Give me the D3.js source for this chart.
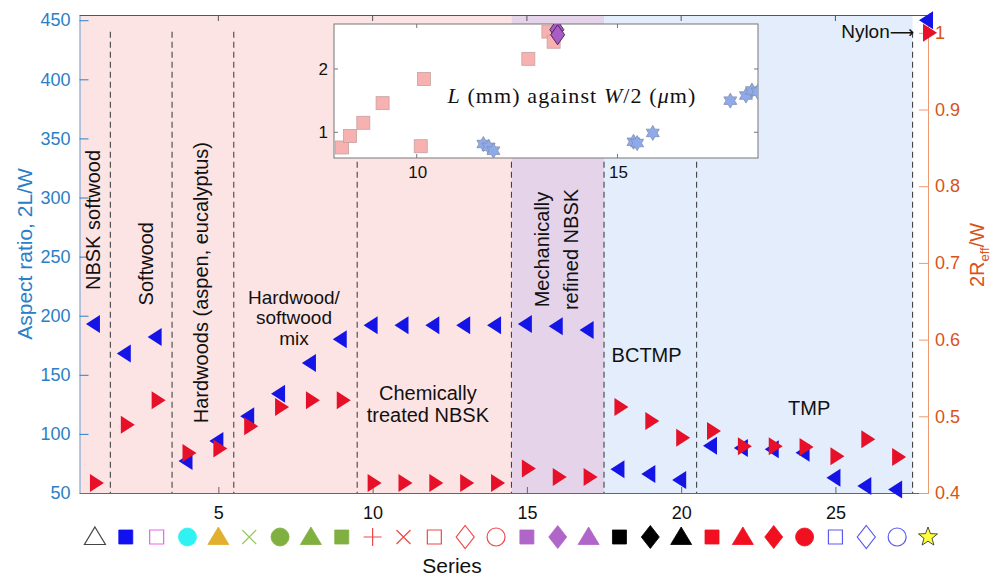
<!DOCTYPE html>
<html>
<head>
<meta charset="utf-8">
<script src="https://cdn.jsdelivr.net/npm/d3@7"></script>
<style>
  body { margin: 0; background: #fff; }
  text { font-family: "Liberation Sans", Arial, Helvetica, sans-serif; }
</style>
</head>
<body>
<svg id="chart" width="995" height="578"></svg>
<script>
// series numbers along the x axis
var series = d3.range(1, 29)

// left axis: aspect ratio 2L/W (blue, left-pointing triangles)
var aspectRatio = [193, 168, 182, 77, 94, 115, 134, 160, 180, 192, 192, 192, 192, 192,
  193, 191, 188, 70, 66, 61, 90, 88, 87, 84, 63, 56, 53, 450]

// right axis: 2Reff/W (red, right-pointing triangles)
var effRatio = [0.413, 0.489, 0.521, 0.452, 0.458, 0.487, 0.512, 0.521, 0.521, 0.413, 0.413,
  0.413, 0.413, 0.413, 0.432, 0.421, 0.421, 0.512, 0.494, 0.472, 0.481, 0.461, 0.461, 0.460,
  0.448, 0.470, 0.447, 1.0]

var leftTicks = [50, 100, 150, 200, 250, 300, 350, 400, 450]
var rightTicks = [0.4, 0.5, 0.6, 0.7, 0.8, 0.9, 1]
var xTicks = [5, 10, 15, 20, 25]

// background bands and dividers (in series units)
var bandStarts = [0.5, 14.5, 17.5]
var bandEnds = [14.5, 17.5, 27.5]
var bandColors = ['#fde4e4', '#e5d3ea', '#e3edfb']
var dividers = [1.5, 3.5, 5.5, 9.5, 14.5, 17.5, 20.5, 27.5]

// marker legend under the axis, one per series
var symbolShapes = ['triangle', 'square', 'square', 'circle', 'triangle', 'times', 'circle', 'triangle',
  'square', 'plus', 'times', 'square', 'diamond', 'circle', 'square', 'diamond', 'triangle',
  'square', 'diamond', 'triangle', 'square', 'triangle', 'diamond', 'circle', 'square', 'diamond',
  'circle', 'star']
var symbolColors = ['#444444', '#1010f0', '#f060f0', '#30f2f2', '#e2b030', '#98c860', '#80b040', '#80b040',
  '#80b040', '#f04848', '#f04848', '#f04848', '#f04848', '#f04848', '#b066c8', '#b066c8', '#b066c8',
  '#000000', '#000000', '#000000', '#f01020', '#f01020', '#f01020', '#f01020', '#5a5af0', '#5a5af0',
  '#5a5af0', '#ffff40']
var symbolFilled = [0, 1, 0, 1, 1, 0, 1, 1, 1, 0, 0, 0, 0, 0, 1, 1, 1, 1, 1, 1, 1, 1, 1, 1, 0, 0, 0, 1]

// inset: L (mm) against W/2 (um)
var insetSquareX = [8.14, 8.34, 8.67, 9.15, 10.18, 10.1, 12.78, 13.28, 13.41]
var insetSquareY = [0.76, 0.94, 1.15, 1.46, 1.84, 0.78, 2.16, 2.59, 2.43]
var insetStarX = [11.66, 11.79, 11.91, 15.4, 15.49, 15.88, 17.81, 18.2, 18.35, 18.49]
var insetStarY = [0.815, 0.77, 0.71, 0.85, 0.83, 0.99, 1.5, 1.58, 1.66, 1.64]
var insetDiamondX = [13.49, 13.51]
var insetDiamondY = [2.62, 2.54]
var insetXTicks = [10, 15]
var insetYTicks = [1, 2]

var svg = d3.select('#chart')
var blue = '#1414e6'
var red = '#e61028'
var leftColor = '#2a80c6'
var rightColor = '#d95319'

var x = d3.scaleLinear().domain([0.5, 28]).range([79.5, 928])
var yL = d3.scaleLinear().domain([50, 454]).range([493, 15.5])
var yR = d3.scaleLinear().domain([0.4, 1.0226]).range([493, 15.5])

// bands
svg.append('g').selectAll('rect')
    .data(bandStarts)
  .enter().append('rect')
    .attr('x', function (d) { return x(d) })
    .attr('width', function (d, i) { return x(bandEnds[i]) - x(d) })
    .attr('y', yL(454))
    .attr('height', yL(50) - yL(454))
    .style('fill', function (d, i) { return bandColors[i] })

// dashed dividers
svg.append('g').selectAll('line')
    .data(dividers)
  .enter().append('line')
    .attr('x1', function (d) { return x(d) }).attr('x2', function (d) { return x(d) })
    .attr('y1', yR(1.0) - 1).attr('y2', yR(0.4))
    .style('stroke', '#444').style('stroke-width', 1.1).style('stroke-dasharray', '6,4')

// box: top line and top ticks
svg.append('line').attr('x1', x(0.5)).attr('x2', x(28)).attr('y1', 15.5).attr('y2', 15.5)
    .style('stroke', '#555').style('stroke-width', 1)
svg.append('g').selectAll('line').data(xTicks).enter().append('line')
    .attr('x1', function (d) { return x(d) }).attr('x2', function (d) { return x(d) })
    .attr('y1', 15.5).attr('y2', 21).style('stroke', '#555')

// axes
var gx = svg.append('g').attr('transform', 'translate(0,' + yL(50) + ')')
    .call(d3.axisBottom(x).tickValues(xTicks).tickSize(-6).tickSizeOuter(0).tickPadding(13))
gx.select('.domain').style('stroke', '#666')
gx.selectAll('.tick line').style('stroke', '#666')
gx.selectAll('text').style('font-size', '18px').style('fill', '#111').style('font-family', null)

var gl = svg.append('g').attr('transform', 'translate(' + x(0.5) + ',0)')
    .call(d3.axisLeft(yL).tickValues(leftTicks).tickSize(-9).tickSizeOuter(0).tickPadding(9))
gl.select('.domain').style('stroke', leftColor).style('stroke-opacity', 0.7)
gl.selectAll('.tick line').style('stroke', leftColor)
gl.selectAll('text').style('font-size', '18px').style('fill', leftColor).style('font-family', null)

var gr = svg.append('g').attr('transform', 'translate(' + x(28) + ',0)')
    .call(d3.axisRight(yR).tickValues(rightTicks).tickSize(-9).tickSizeOuter(0).tickPadding(7)
      .tickFormat(function (d) { return d === 1 ? '1' : d3.format('.1f')(d) }))
gr.select('.domain').style('stroke', '#ee9a70')
gr.selectAll('.tick line').style('stroke', '#ee9a70')
gr.selectAll('text').style('font-size', '18px').style('fill', rightColor).style('font-family', null)

// axis titles
svg.append('text')
    .attr('transform', 'translate(32,254) rotate(-90)')
    .attr('text-anchor', 'middle')
    .style('font-size', '21px').style('fill', leftColor)
    .text('Aspect ratio, 2L/W')

var rt = svg.append('text')
    .attr('transform', 'translate(984,255) rotate(-90)')
    .attr('text-anchor', 'middle')
    .style('font-size', '20px').style('fill', rightColor)
rt.append('tspan').text('2R')
rt.append('tspan').attr('dy', 5).style('font-size', '13px').text('eff')
rt.append('tspan').attr('dy', -5).text('/W')

svg.append('text')
    .attr('x', 452).attr('y', 573).attr('text-anchor', 'middle')
    .style('font-size', '21px').style('fill', '#111')
    .text('Series')

// region annotations
function rotLabel (lines, sx, vy, lineGap) {
  var t = svg.append('text')
    .attr('transform', 'translate(' + x(sx) + ',' + yL(vy) + ') rotate(-90)')
    .attr('text-anchor', 'middle')
    .style('font-size', '20px').style('fill', '#111')
  lines.forEach(function (l, i) {
    t.append('tspan').attr('x', 0).attr('y', i * lineGap).text(l)
  })
}
function flatLabel (lines, sx, vy, lineGap, size) {
  var t = svg.append('text')
    .attr('x', x(sx)).attr('y', yL(vy))
    .attr('text-anchor', 'middle')
    .style('font-size', (size || 20) + 'px').style('fill', '#111')
  lines.forEach(function (l, i) {
    t.append('tspan').attr('x', x(sx)).attr('dy', i === 0 ? 0 : lineGap).text(l)
  })
}
rotLabel(['NBSK softwood'], 1.18, 281, 0)
rotLabel(['Softwood'], 2.89, 244, 0)
rotLabel(['Hardwoods (aspen, eucalyptus)'], 4.68, 228, 0)
rotLabel(['Mechanically', 'refined NBSK'], 15.71, 256, 29)
flatLabel(['Hardwood/', 'softwood', 'mix'], 7.45, 210, 20.5, 19)
flatLabel(['Chemically', 'treated NBSK'], 11.79, 129, 22)
flatLabel(['BCTMP'], 18.88, 161, 0)
flatLabel(['TMP'], 24.15, 116, 0)
var ny = svg.append('text')
    .attr('x', x(27.55)).attr('y', yL(435)).attr('text-anchor', 'end')
    .style('font-size', '19px').style('fill', '#111')
ny.append('tspan').text('Nylon')
ny.append('tspan').style('font-family', '"DejaVu Sans", sans-serif').style('font-size', '17px').text('\u27f6')

// triangles
function triLeft (w, h) { return 'M' + (-w / 2) + ',0L' + (w / 2) + ',' + (-h / 2) + 'L' + (w / 2) + ',' + (h / 2) + 'Z' }
function triRight (w, h) { return 'M' + (w / 2) + ',0L' + (-w / 2) + ',' + (-h / 2) + 'L' + (-w / 2) + ',' + (h / 2) + 'Z' }

svg.append('g').selectAll('path')
    .data(series)
  .enter().append('path')
    .attr('transform', function (d, i) { return 'translate(' + (x(d) - 2) + ',' + yL(aspectRatio[i]) + ')' })
    .attr('d', triLeft(14, 18))
    .style('fill', blue)

svg.append('g').selectAll('path')
    .data(series)
  .enter().append('path')
    .attr('transform', function (d, i) { return 'translate(' + (x(d) + 2) + ',' + yR(effRatio[i]) + ')' })
    .attr('d', triRight(14, 18))
    .style('fill', red)

// marker legend row
function shapePath (s) {
  if (s === 'square') return 'M-7,-7H7V7H-7Z'
  if (s === 'circle') return 'M9,0A9,9 0 1,1 -9,0A9,9 0 1,1 9,0Z'
  if (s === 'triangle') return 'M0,-10L10.5,7.5L-10.5,7.5Z'
  if (s === 'diamond') return 'M0,-11.5L9,0L0,11.5L-9,0Z'
  if (s === 'plus') return 'M-9,0H9M0,-9V9'
  if (s === 'times') return 'M-7,-7L7,7M-7,7L7,-7'
  if (s === 'star') {
    var p = []
    for (var k = 0; k < 10; k++) {
      var r = k % 2 === 0 ? 10 : 4.2
      var a = -Math.PI / 2 + k * Math.PI / 5
      p.push([r * Math.cos(a), r * Math.sin(a)])
    }
    return 'M' + p.join('L') + 'Z'
  }
}
svg.append('g').selectAll('path')
    .data(series)
  .enter().append('path')
    .attr('transform', function (d) { return 'translate(' + x(d) + ',537)' })
    .attr('d', function (d, i) { return shapePath(symbolShapes[i]) })
    .style('fill', function (d, i) { return symbolFilled[i] ? symbolColors[i] : 'none' })
    .style('stroke', function (d, i) { return symbolShapes[i] === 'star' ? '#222' : symbolColors[i] })
    .style('stroke-width', function (d, i) { return symbolFilled[i] ? 0.8 : 1.2 })

// inset
var ix = d3.scaleLinear().domain([7.94, 18.5]).range([334, 758])
var iy = d3.scaleLinear().domain([0.594, 2.71]).range([158, 24])

svg.append('defs').append('clipPath').attr('id', 'insetClip')
  .append('rect').attr('x', 334).attr('y', 24).attr('width', 424).attr('height', 134)

svg.append('rect').attr('x', 334).attr('y', 24).attr('width', 424).attr('height', 134)
    .style('fill', '#fff').style('stroke', '#777').style('stroke-width', 1)

var ig = svg.append('g')
ig.selectAll('.ytl').data(insetYTicks).enter().append('path')
    .attr('d', function (d) { return 'M334,' + iy(d) + 'h4M758,' + iy(d) + 'h-4' })
    .style('stroke', '#777')
ig.selectAll('.xtl').data(insetXTicks).enter().append('path')
    .attr('d', function (d) { return 'M' + ix(d) + ',158v-4M' + ix(d) + ',24v4' })
    .style('stroke', '#777')
ig.selectAll('.ytx').data(insetYTicks).enter().append('text')
    .attr('x', 328).attr('y', function (d) { return iy(d) + 6 })
    .attr('text-anchor', 'end').style('font-size', '17px').style('fill', '#111')
    .text(function (d) { return d })
ig.selectAll('.xtx').data(insetXTicks).enter().append('text')
    .attr('x', function (d) { return ix(d) + 1 }).attr('y', 178)
    .attr('text-anchor', 'middle').style('font-size', '17px').style('fill', '#111')
    .text(function (d) { return d })

var it = svg.append('text')
    .attr('x', 572).attr('y', 103).attr('text-anchor', 'middle')
    .style('font-family', '"Liberation Serif", "DejaVu Serif", serif')
    .style('font-size', '22px').style('letter-spacing', '1.1px').style('fill', '#111')
it.append('tspan').style('font-style', 'italic').text('L')
it.append('tspan').text(' (mm) against ')
it.append('tspan').style('font-style', 'italic').text('W')
it.append('tspan').text('/2 (')
it.append('tspan').style('font-style', 'italic').text('\u03bc')
it.append('tspan').text('m)')

var ic = svg.append('g').attr('clip-path', 'url(#insetClip)')
ic.selectAll('.sq').data(insetSquareX).enter().append('rect')
    .attr('x', function (d) { return ix(d) - 6.5 })
    .attr('y', function (d, i) { return iy(insetSquareY[i]) - 6.5 })
    .attr('width', 13).attr('height', 13)
    .style('fill', '#f7b1b1').style('stroke', '#c8a0a0').style('stroke-width', 0.8)

function hexagram (R) {
  var p = []
  for (var k = 0; k < 12; k++) {
    var r = k % 2 === 0 ? R : R / Math.sqrt(3)
    var a = -Math.PI / 2 + k * Math.PI / 6
    p.push([r * Math.cos(a), r * Math.sin(a)])
  }
  return 'M' + p.join('L') + 'Z'
}
ic.selectAll('.st').data(insetStarX).enter().append('path')
    .attr('transform', function (d, i) { return 'translate(' + ix(d) + ',' + iy(insetStarY[i]) + ')' })
    .attr('d', hexagram(7.5))
    .style('fill', '#8eaaea').style('stroke', '#7f8fb0').style('stroke-width', 0.8)

ic.selectAll('.dm').data(insetDiamondX).enter().append('path')
    .attr('transform', function (d, i) { return 'translate(' + ix(d) + ',' + iy(insetDiamondY[i]) + ')' })
    .attr('d', 'M0,-10L7,0L0,10L-7,0Z')
    .style('fill', '#a95cc4').style('stroke', '#4a2a55').style('stroke-width', 1)
</script>
</body>
</html>
